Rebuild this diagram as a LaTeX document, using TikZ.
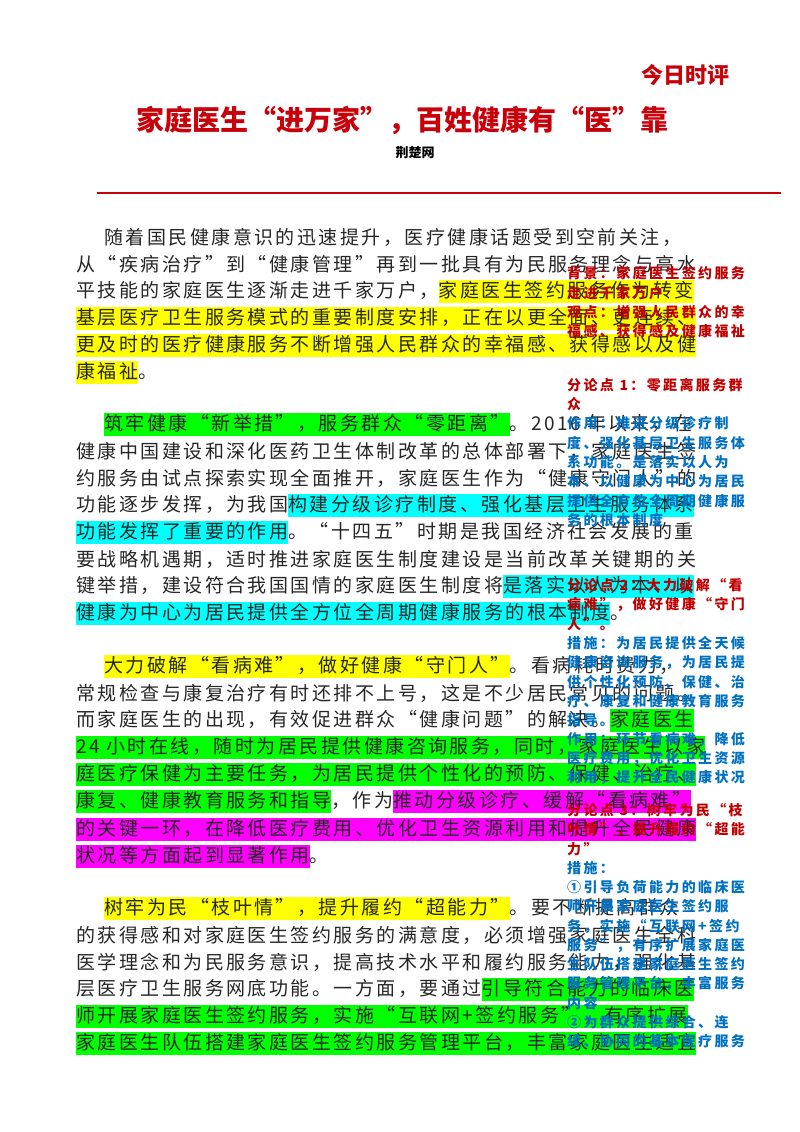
\documentclass[tikz,border=0pt]{standalone}
\usepackage{fontspec}
\setmainfont{Noto Sans CJK SC}
\newfontfamily\bodyf[LetterSpace=13]{Noto Sans CJK SC}
\newfontfamily\sidef[LetterSpace=17]{Noto Sans CJK SC}
\definecolor{hy}{HTML}{FFFF00}
\definecolor{hg}{HTML}{00FF00}
\definecolor{hc}{HTML}{00FFFF}
\definecolor{hm}{HTML}{FF00FF}
\definecolor{tred}{HTML}{C8000A}
\definecolor{sred}{HTML}{C00000}
\definecolor{sblue}{HTML}{0070C0}
\setlength{\fboxsep}{0pt}
\newcommand\HY[1]{\colorbox{hy}{\rule[-5pt]{0pt}{23pt}#1}}
\newcommand\HG[1]{\colorbox{hg}{\rule[-5pt]{0pt}{23pt}#1}}
\newcommand\HC[1]{\colorbox{hc}{\rule[-5pt]{0pt}{23pt}#1}}
\newcommand\HM[1]{\colorbox{hm}{\rule[-5pt]{0pt}{23pt}#1}}
\tikzset{
  bl/.style={anchor=west,inner sep=0pt,font=\bodyf\fontsize{19}{19}\selectfont,text=black!85},
  sr/.style={anchor=west,inner sep=0pt,font=\sidef\bfseries\fontsize{14}{14}\selectfont,text=sred},
  sb/.style={anchor=west,inner sep=0pt,font=\sidef\bfseries\fontsize{14}{14}\selectfont,text=sblue},
}
\newcommand\Ln[3]{\node[bl] (#1) at (#2) {#3};}
\begin{document}
\begin{tikzpicture}[x=1pt,y=-1pt]
\useasboundingbox[fill=white] (0,0) rectangle (800,1132);
% header
\node[font=\bfseries\fontsize{22}{22}\selectfont,text=tred] (brand) at (685,75) {今日时评};
\node[font=\bfseries\fontsize{28}{28}\selectfont,text=tred] (title) at (402,120) {家庭医生“进万家”，百姓健康有“医”靠};
\node[font=\bfseries\fontsize{13}{13}\selectfont] (src) at (415,153) {荆楚网};
\coordinate (ra) at (97,193); \coordinate (rb) at (781,193);
\draw[tred,line width=2.5pt] (ra) -- (rb);
% paragraph 1
\Ln{a1}{104,237}{随着国民健康意识的迅速提升，医疗健康话题受到空前关注，}
\Ln{a2}{76,264}{从“疾病治疗”到“健康管理”再到一批具有为民服务理念与高水}
\Ln{a3}{76,291}{平技能的家庭医生逐渐走进千家万户，\HY{家庭医生签约服务作为转变}}
\Ln{a4}{76,318}{\HY{基层医疗卫生服务模式的重要制度安排，正在以更全面、更连续、}}
\Ln{a5}{76,345}{\HY{更及时的医疗健康服务不断增强人民群众的幸福感、获得感以及健}}
\Ln{a6}{76,372}{\HY{康福祉}。}
% paragraph 2
\Ln{b1}{104,424}{\HG{筑牢健康“新举措”，服务群众“零距离”}。2016 年以来，在}
\Ln{b2}{76,451}{健康中国建设和深化医药卫生体制改革的总体部署下，家庭医生签}
\Ln{b3}{76,478}{约服务由试点探索实现全面推开，家庭医生作为“健康守门人”的}
\Ln{b4}{76,505}{功能逐步发挥，为我国\HC{构建分级诊疗制度、强化基层卫生服务体系}}
\Ln{b5}{76,532}{\HC{功能发挥了重要的作用}。“十四五”时期是我国经济社会发展的重}
\Ln{b6}{76,559}{要战略机遇期，适时推进家庭医生制度建设是当前改革关键期的关}
\Ln{b7}{76,586}{键举措，建设符合我国国情的家庭医生制度将\HC{是落实以人为本、以}}
\Ln{b8}{76,613}{\HC{健康为中心为居民提供全方位全周期健康服务的根本制度}。}
% paragraph 3
\Ln{c1}{104,666}{\HY{大力破解“看病难”，做好健康“守门人”}。看病耗时费力，}
\Ln{c2}{76,693}{常规检查与康复治疗有时还排不上号，这是不少居民常见的问题。}
\Ln{c3}{76,720}{而家庭医生的出现，有效促进群众“健康问题”的解决。\HG{家庭医生}}
\Ln{c4}{76,747}{\HG{24 小时在线，随时为居民提供健康咨询服务，同时，家庭医生以家}}
\Ln{c5}{76,774}{\HG{庭医疗保健为主要任务，为居民提供个性化的预防、保健、治疗、}}
\Ln{c6}{76,801}{\HG{康复、健康教育服务和指导}，作为\HM{推动分级诊疗、缓解“看病难”}}
\Ln{c7}{76,829}{\HM{的关键一环，在降低医疗费用、优化卫生资源利用和提升全民健康}}
\Ln{c8}{76,856}{\HM{状况等方面起到显著作用}。}
% paragraph 4
\Ln{d1}{104,908}{\HY{树牢为民“枝叶情”，提升履约“超能力”}。要不断提高群众}
\Ln{d2}{76,935}{的获得感和对家庭医生签约服务的满意度，必须增强家庭医生全科}
\Ln{d3}{76,962}{医学理念和为民服务意识，提高技术水平和履约服务能力，强化基}
\Ln{d4}{76,989}{层医疗卫生服务网底功能。一方面，要通过\HG{引导符合能力的临床医}}
\Ln{d5}{76,1016}{\HG{师开展家庭医生签约服务，实施“互联网+签约服务”，有序扩展}}
\Ln{d6}{76,1043}{\HG{家庭医生队伍搭建家庭医生签约服务管理平台，丰富家庭医生适宜}}
% side notes
\node[sr] (s1) at (567,273) {背景：家庭医生签约服务};
\node[sr] (s2) at (567,293) {走进千家万户};
\node[sr] (s3) at (567,312) {观点：增强人民群众的幸};
\node[sr] (s4) at (567,331) {福感、获得感及健康福祉};
\node[sr] (s5) at (567,385) {分论点 1：零距离服务群};
\node[sr] (s6) at (567,404) {众};
\node[sb] (s7) at (567,423) {作用：推进分级诊疗制};
\node[sb] (s8) at (567,443) {度、强化基层卫生服务体};
\node[sb] (s9) at (567,462) {系功能。是落实以人为};
\node[sb] (s10) at (567,481) {本、以健康为中心为居民};
\node[sb] (s11) at (567,501) {提供全方位全周期健康服};
\node[sb] (s12) at (567,520) {务的根本制度};
\node[sr] (t1) at (567,585) {分论点 2：大力破解“看};
\node[sr] (t2) at (567,605) {病难”，做好健康“守门};
\node[sr] (t3) at (567,624) {人”。};
\node[sb] (t4) at (567,643) {措施：为居民提供全天候};
\node[sb] (t5) at (567,663) {健康咨询服务，为居民提};
\node[sb] (t6) at (567,682) {供个性化预防、保健、治};
\node[sb] (t7) at (567,701) {疗、康复和健康教育服务};
\node[sb] (t8) at (567,720) {指导。};
\node[sb] (t9) at (567,740) {作用：环节看病难，降低};
\node[sb] (t10) at (567,759) {医疗费用，优化卫生资源};
\node[sb] (t11) at (567,778) {利用，提升全民健康状况};
\node[sr] (u1) at (567,810) {分论点 3：树牢为民“枝};
\node[sr] (u2) at (567,830) {叶情”，提升履约“超能};
\node[sr] (u3) at (567,849) {力”};
\node[sb] (u4) at (567,868) {措施：};
\node[sb] (u5) at (567,887) {①引导负荷能力的临床医};
\node[sb] (u6) at (567,906) {师开展家庭医生签约服};
\node[sb] (u7) at (567,926) {务，实施“互联网+签约};
\node[sb] (u8) at (567,945) {服务”，有序扩展家庭医};
\node[sb] (u9) at (567,964) {生队伍搭建家庭医生签约};
\node[sb] (u10) at (567,983) {服务管理平台，丰富服务};
\node[sb] (u11) at (567,1003) {内容};
\node[sb] (u12) at (567,1022) {②为群众提供综合、连};
\node[sb] (u13) at (567,1041) {续、协同的基本医疗服务};
\end{tikzpicture}
\end{document}
